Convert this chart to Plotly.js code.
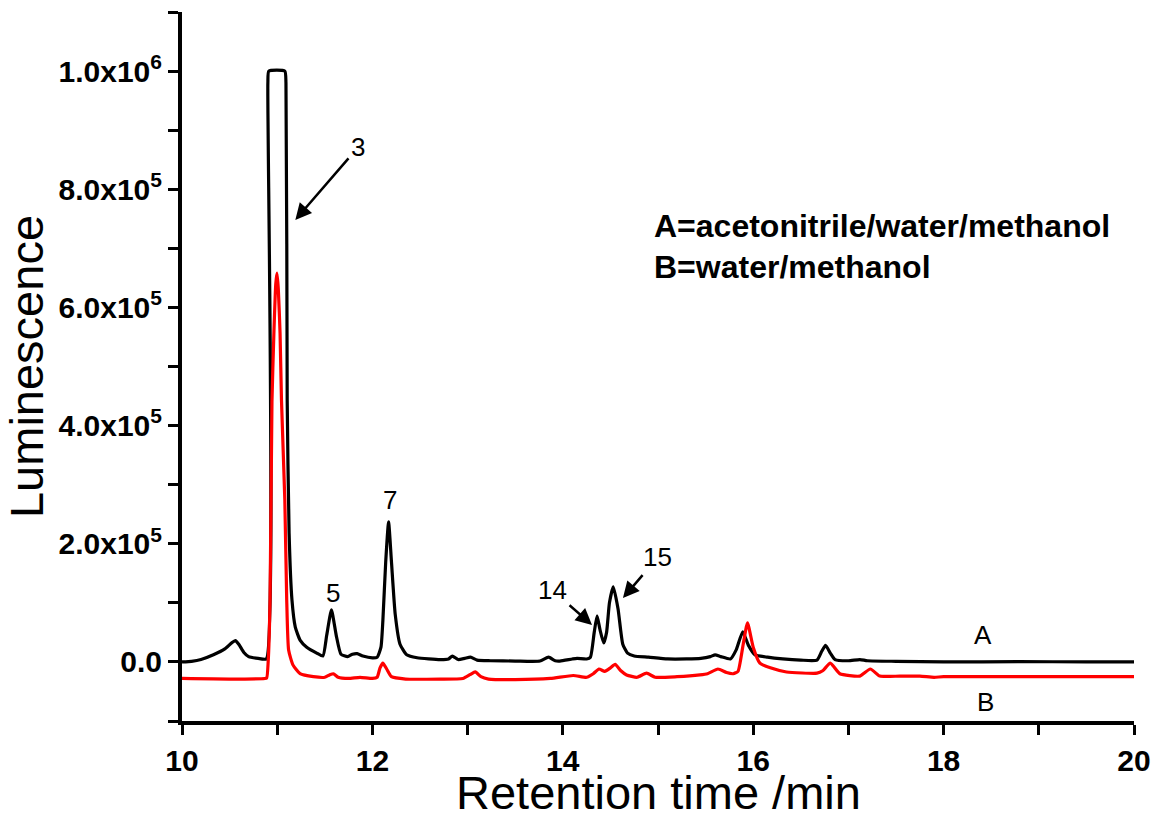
<!DOCTYPE html>
<html>
<head>
<meta charset="utf-8">
<script src="https://cdn.plot.ly/plotly-3.0.1.min.js"></script>
<style>
  html, body { margin: 0; padding: 0; background: #ffffff; }
  #chart { width: 1156px; height: 815px; }
</style>
</head>
<body>
<div id="chart"></div>
<script>
// Chromatogram A: acetonitrile/water/methanol (retention time in min, luminescence counts)
const timeA = [
  10.00, 10.10, 10.20, 10.33, 10.45, 10.52, 10.56, 10.60, 10.65, 10.70, 10.80, 10.885,
  10.902, 10.912, 11.080, 11.092, 11.105, 11.125, 11.155, 11.19, 11.24, 11.31, 11.415,
  11.48, 11.52, 11.57, 11.62, 11.67, 11.74, 11.79, 11.84, 11.90, 12.00, 12.05, 12.09,
  12.11, 12.14, 12.17, 12.20, 12.24, 12.29, 12.36, 12.47, 12.71, 12.80, 12.84, 12.90, 12.97,
  13.03, 13.10, 13.24, 13.50, 13.76, 13.85, 13.92, 13.97, 14.10, 14.15, 14.25, 14.29,
  14.33, 14.36, 14.39, 14.43, 14.46, 14.49, 14.53, 14.58, 14.63, 14.68, 14.75, 14.90,
  15.10, 15.30, 15.45, 15.55, 15.60, 15.66, 15.76, 15.82, 15.89, 15.95, 16.02, 16.15,
  16.31, 16.50, 16.67, 16.72, 16.76, 16.81, 16.86, 17.00, 17.12, 17.20, 17.50, 18.00,
  18.80, 19.50, 20.00
];
const signalA = [
  0, 1000, 4000, 12000, 22000, 32000, 36000, 29000, 16000, 9000, 6000, 5000,
  980000, 1000000, 1000000, 980000, 443000, 218000, 105000, 59000, 37000, 25000, 15000,
  10000, 45000, 88000, 45000, 13000, 9000, 13000, 14000, 10000, 7000, 8000, 25000,
  70000, 170000, 237000, 170000, 80000, 30000, 12000, 7000, 4000, 5000, 10000, 4000, 6000,
  8000, 3000, 2000, 1500, 1500, 8000, 2000, 1500, 5000, 6000, 5000, 8000,
  50000, 78000, 55000, 32000, 50000, 100000, 127000, 90000, 30000, 15000, 10000, 8000,
  5000, 5000, 6000, 9000, 12000, 9000, 5000, 20000, 51000, 28000, 12000, 8000,
  5000, 3000, 3000, 18000, 28000, 15000, 4000, 2000, 4000, 2000, 1000, 0,
  500, 0, 0
];

// Chromatogram B: water/methanol
const timeB = [
  10.00, 10.50, 10.87, 10.89, 10.905, 10.925, 10.945, 10.966, 10.985, 10.998, 11.012,
  11.03, 11.045, 11.08, 11.10, 11.12, 11.165, 11.24, 11.38, 11.50, 11.55, 11.59, 11.64,
  11.75, 11.87, 12.00, 12.05, 12.08, 12.11, 12.15, 12.20, 12.35, 12.71, 12.95, 13.03,
  13.08, 13.14, 13.22, 13.50, 13.87, 14.11, 14.25, 14.32, 14.38, 14.44, 14.50, 14.55,
  14.61, 14.67, 14.78, 14.88, 14.97, 15.20, 15.44, 15.52, 15.63, 15.72, 15.79, 15.84,
  15.89, 15.94, 16.00, 16.07, 16.18, 16.35, 16.67, 16.73, 16.81, 16.91, 17.12, 17.23,
  17.33, 17.54, 17.75, 17.90, 18.00, 20.00
];
const signalB = [
  -28000, -29000, -28000, -27000, 0, 105000, 440000, 560000, 640000, 658000, 630000,
  556000, 443000, 274000, 105000, 20000, -5000, -20000, -25000, -26000, -22000, -20000, -26000,
  -28000, -26000, -28000, -26000, -10000, -2000, -12000, -25000, -29000, -29000, -28000, -21000,
  -17000, -25000, -29000, -30000, -28000, -23000, -26000, -20000, -12000, -16000, -10000, -4000,
  -15000, -22000, -26000, -19000, -26000, -25000, -22000, -20000, -12000, -18000, -20000, -16000,
  25000, 66000, 25000, -2000, -10000, -17000, -19000, -15000, -2000, -20000, -24000, -12000,
  -24000, -24000, -24000, -26000, -25000, -25000
];

// Axis ticks
const xRange = [10, 20];
const yRange = [-100000, 1100000];
const yTickVals = [0, 200000, 400000, 600000, 800000, 1000000];
const yTickText = ['0.0', '2.0x10<sup>5</sup>', '4.0x10<sup>5</sup>', '6.0x10<sup>5</sup>',
                   '8.0x10<sup>5</sup>', '1.0x10<sup>6</sup>'];

// Peak numbers: [label, time, luminescence]
const peakNumbers = [
  ['5', 11.586, 117000],
  ['7', 12.185, 274000]
];
// Arrowed peak numbers: [label, arrow tip time, arrow tip luminescence, text dx, text dy (px)]
const arrowedPeaks = [
  ['3', 11.19, 748000, 63, -73],
  ['14', 14.307, 62600, -40, -35],
  ['15', 14.632, 108000, 35, -41]
];
// Trace names placed beside each chromatogram: [label, time, luminescence]
const traceTags = [
  ['A', 18.414, 45700],
  ['B', 18.435, -67700]
];
const solventKey = [
  ['<b>A=acetonitrile/water/methanol</b>', 14.937, 738000],
  ['<b>B=water/methanol</b>', 14.937, 668000]
];

const FONT = 'Arial, "Liberation Sans", sans-serif';
const numFont = { family: FONT, size: 26, color: '#000' };

const traces = [
  { x: timeA, y: signalA, type: 'scatter', mode: 'lines', name: 'A',
    line: { color: '#000000', width: 3.2, shape: 'spline', smoothing: 0.5 }, hoverinfo: 'skip' },
  { x: timeB, y: signalB, type: 'scatter', mode: 'lines', name: 'B',
    line: { color: '#ff0000', width: 3.2, shape: 'spline', smoothing: 0.5 }, hoverinfo: 'skip' }
];

const annotations = [];
peakNumbers.forEach(function (p) {
  annotations.push({ x: p[1], y: p[2], text: p[0], showarrow: false, font: numFont });
});
arrowedPeaks.forEach(function (p) {
  annotations.push({ x: p[1], y: p[2], text: p[0], showarrow: true,
    ax: p[3], ay: p[4], arrowhead: 2, arrowsize: 1.3, arrowwidth: 2.5, arrowcolor: '#000',
    standoff: 0, startstandoff: 2, font: numFont });
});
traceTags.forEach(function (p) {
  annotations.push({ x: p[1], y: p[2], text: p[0], showarrow: false, font: numFont });
});
solventKey.forEach(function (p) {
  annotations.push({ x: p[1], y: p[2], xanchor: 'left', text: p[0], showarrow: false,
    font: { family: FONT, size: 32, color: '#000' } });
});
// x-axis title, set lower than the default title slot
annotations.push({ xref: 'paper', yref: 'paper', x: 0.5, y: -0.1005, xanchor: 'center', yanchor: 'middle',
  text: 'Retention time /min', showarrow: false, font: { family: FONT, size: 47, color: '#000' } });

const layout = {
  width: 1156, height: 815,
  margin: { l: 182, r: 22, t: 12, b: 94 },
  paper_bgcolor: '#ffffff', plot_bgcolor: '#ffffff',
  showlegend: false,
  font: { family: FONT, color: '#000' },
  xaxis: {
    range: xRange, dtick: 2, tick0: 10,
    showline: true, linecolor: '#000', linewidth: 4,
    ticks: 'outside', ticklen: 10, tickwidth: 3, tickcolor: '#000',
    minor: { dtick: 1, tick0: 10, ticks: 'outside', ticklen: 10, tickwidth: 3, tickcolor: '#000' },
    showgrid: false, zeroline: false,
    tickfont: { family: FONT, size: 30, color: '#000', weight: 'bold' }
  },
  yaxis: {
    range: yRange, tickmode: 'array', tickvals: yTickVals, ticktext: yTickText,
    showline: true, linecolor: '#000', linewidth: 4,
    ticks: 'outside', ticklen: 10, tickwidth: 3, tickcolor: '#000',
    minor: { dtick: 100000, tick0: 0, ticks: 'outside', ticklen: 10, tickwidth: 3, tickcolor: '#000' },
    showgrid: false, zeroline: false,
    tickfont: { family: FONT, size: 30, color: '#000', weight: 'bold' },
    title: { text: 'Luminescence', font: { family: FONT, size: 47, color: '#000' }, standoff: 2 }
  },
  annotations: annotations
};

Plotly.newPlot('chart', traces, layout, { displayModeBar: false, staticPlot: true });
</script>
</body>
</html>
